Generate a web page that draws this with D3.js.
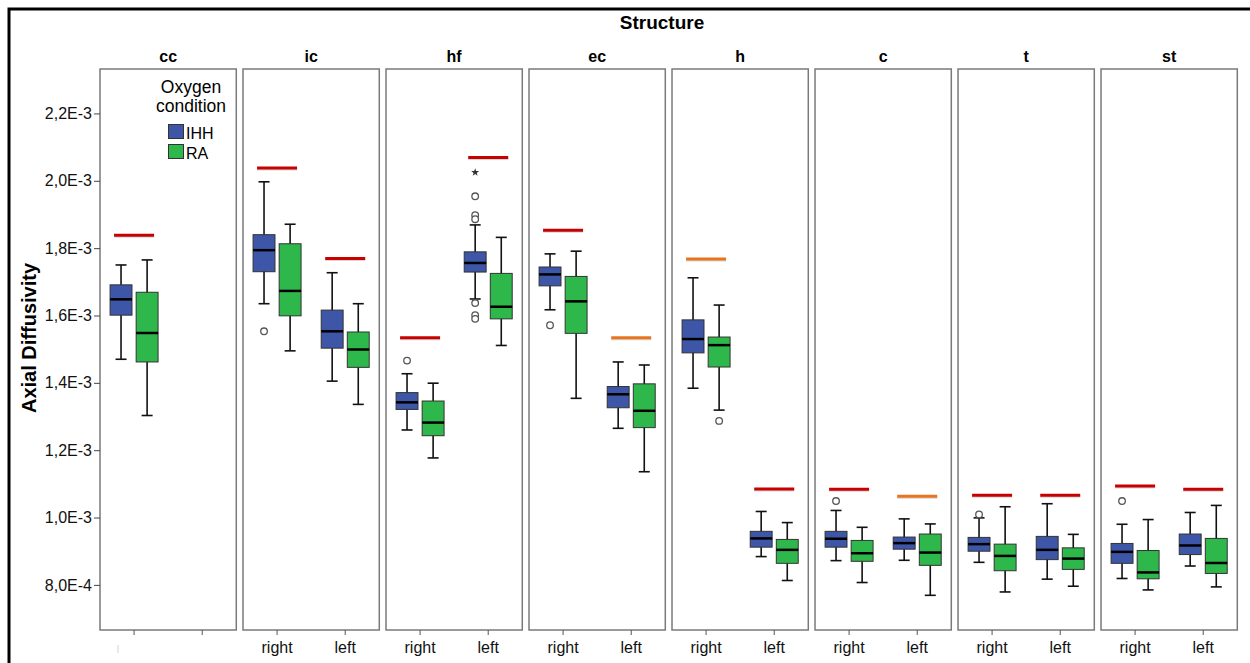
<!DOCTYPE html>
<html>
<head>
<meta charset="utf-8">
<script src="https://cdn.jsdelivr.net/npm/d3@7"></script>
<style>
  body { margin: 0; background: #fff; }
  text { font-family: "Liberation Sans", Arial, sans-serif; }
</style>
</head>
<body>
<svg id="chart" width="1250" height="663"></svg>
<script>
// values are in units of 1E-4
var structures = ["cc", "ic", "hf", "ec", "h", "c", "t", "st"];
var sides = ["right", "left"];
var ccSides = ["", " "];
var groups = ["IHH", "RA"];
var tickValues = [8, 10, 12, 14, 16, 18, 20, 22];
var tickLabels = ["8,0E-4", "1,0E-3", "1,2E-3", "1,4E-3", "1,6E-3", "1,8E-3", "2,0E-3", "2,2E-3"];

// [structure, side, group, whisker low, q1, median, q3, whisker high]
var boxStats = [
  ["cc", "", "IHH", 14.70, 16.01, 16.48, 16.91, 17.50],
  ["cc", "", "RA", 13.03, 14.62, 15.48, 16.69, 17.65],
  ["ic", "right", "IHH", 16.35, 17.30, 17.94, 18.40, 19.97],
  ["ic", "right", "RA", 14.95, 15.99, 16.73, 18.13, 18.71],
  ["ic", "left", "IHH", 14.05, 15.03, 15.53, 16.16, 17.27],
  ["ic", "left", "RA", 13.36, 14.46, 14.99, 15.51, 16.35],
  ["hf", "right", "IHH", 12.60, 13.21, 13.42, 13.71, 14.27],
  ["hf", "right", "RA", 11.77, 12.43, 12.82, 13.46, 13.99],
  ["hf", "left", "IHH", 16.49, 17.29, 17.56, 17.89, 18.69],
  ["hf", "left", "RA", 15.11, 15.90, 16.26, 17.25, 18.32],
  ["ec", "right", "IHH", 16.17, 16.88, 17.22, 17.44, 17.83],
  ["ec", "right", "RA", 13.54, 15.47, 16.42, 17.16, 17.91],
  ["ec", "left", "IHH", 12.65, 13.26, 13.66, 13.89, 14.62],
  ["ec", "left", "RA", 11.36, 12.67, 13.17, 13.97, 14.53],
  ["h", "right", "IHH", 13.84, 14.89, 15.30, 15.87, 17.12],
  ["h", "right", "RA", 13.19, 14.47, 15.12, 15.36, 16.31],
  ["h", "left", "IHH", 8.84, 9.12, 9.38, 9.59, 10.18],
  ["h", "left", "RA", 8.13, 8.64, 9.04, 9.35, 9.85],
  ["c", "right", "IHH", 8.72, 9.12, 9.37, 9.59, 10.21],
  ["c", "right", "RA", 8.07, 8.70, 8.94, 9.32, 9.71],
  ["c", "left", "IHH", 8.73, 9.06, 9.24, 9.42, 9.96],
  ["c", "left", "RA", 7.69, 8.58, 8.96, 9.51, 9.81],
  ["t", "right", "IHH", 8.67, 9.00, 9.21, 9.41, 9.99],
  ["t", "right", "RA", 7.79, 8.42, 8.86, 9.21, 10.32],
  ["t", "left", "IHH", 8.17, 8.75, 9.04, 9.44, 10.41],
  ["t", "left", "RA", 7.96, 8.46, 8.78, 9.10, 9.50],
  ["st", "right", "IHH", 8.19, 8.64, 8.98, 9.23, 9.80],
  ["st", "right", "RA", 7.85, 8.18, 8.37, 9.02, 9.94],
  ["st", "left", "IHH", 8.56, 8.90, 9.17, 9.51, 10.15],
  ["st", "left", "RA", 7.94, 8.34, 8.65, 9.38, 10.36]
];

// [structure, side, group, value, kind]
var outliers = [
  ["ic", "right", "IHH", 15.53, "o"],
  ["hf", "right", "IHH", 14.66, "o"],
  ["hf", "left", "IHH", 20.25, "*"],
  ["hf", "left", "IHH", 19.54, "o"],
  ["hf", "left", "IHH", 18.98, "o"],
  ["hf", "left", "IHH", 18.86, "o"],
  ["hf", "left", "IHH", 16.37, "o"],
  ["hf", "left", "IHH", 16.01, "o"],
  ["hf", "left", "IHH", 15.90, "o"],
  ["ec", "right", "IHH", 15.71, "o"],
  ["h", "right", "RA", 12.87, "o"],
  ["c", "right", "IHH", 10.49, "o"],
  ["t", "right", "IHH", 10.09, "o"],
  ["st", "right", "IHH", 10.49, "o"]
];

// [structure, side, value, level]
var refLines = [
  ["cc", "", 18.38, "red"],
  ["ic", "right", 20.38, "red"],
  ["ic", "left", 17.69, "red"],
  ["hf", "right", 15.34, "red"],
  ["hf", "left", 20.69, "red"],
  ["ec", "right", 18.53, "red"],
  ["ec", "left", 15.34, "orange"],
  ["h", "right", 17.68, "orange"],
  ["h", "left", 10.85, "red"],
  ["c", "right", 10.84, "red"],
  ["c", "left", 10.63, "orange"],
  ["t", "right", 10.66, "red"],
  ["t", "left", 10.66, "red"],
  ["st", "right", 10.94, "red"],
  ["st", "left", 10.84, "red"]
];

var svg = d3.select("#chart");
var plotTop = 69, plotBottom = 630, plotLeft = 100, plotRight = 1237.3;

svg.append("rect").attr("width", 1250).attr("height", 663).attr("fill", "#fff");

// outer frame
svg.append("path")
  .attr("d", "M9,663 V9 H1250")
  .attr("fill", "none")
  .attr("stroke", "#000")
  .attr("stroke-width", 3);

var fx = d3.scaleBand().domain(structures).range([plotLeft, plotRight]).paddingInner(0.047).paddingOuter(0);
var y = d3.scaleLinear().domain([6.66, 23.32]).range([plotBottom, plotTop]);
var gx = d3.scaleBand().domain(groups).range([-24, 24]).paddingInner(0.16);
var color = d3.scaleOrdinal().domain(groups).range(["#3d56a8", "#2eb84b"]);
var refColor = d3.scaleOrdinal().domain(["red", "orange"]).range(["#c80000", "#e8741e"]);

svg.append("text")
  .attr("x", 662).attr("y", 29)
  .attr("text-anchor", "middle")
  .style("font-size", "19px").style("font-weight", "bold")
  .text("Structure");

svg.append("text")
  .attr("transform", "translate(36,338) rotate(-90)")
  .attr("text-anchor", "middle")
  .style("font-size", "20px").style("font-weight", "bold")
  .text("Axial Diffusivity");

structures.forEach(function (s) {
  var bw = fx.bandwidth();
  var sx = d3.scaleBand().domain(s === "cc" ? ccSides : sides).range([0, bw]);
  var center = function (side) { return sx(side) + sx.bandwidth() / 2; };

  var g = svg.append("g").attr("transform", "translate(" + fx(s) + ",0)");

  g.append("rect")
    .attr("x", 0).attr("y", plotTop)
    .attr("width", bw).attr("height", plotBottom - plotTop)
    .attr("fill", "#fff")
    .attr("stroke", "#7a7a7a")
    .attr("stroke-width", 1.5);

  g.append("text")
    .attr("x", bw / 2).attr("y", 61.5)
    .attr("text-anchor", "middle")
    .style("font-size", "16px").style("font-weight", "bold")
    .text(s);

  var xa = g.append("g")
    .attr("transform", "translate(0," + plotBottom + ")")
    .call(d3.axisBottom(sx).tickSize(5).tickSizeOuter(0).tickPadding(7));
  xa.select(".domain").remove();
  xa.selectAll("line").attr("stroke", "#555");
  xa.selectAll("text").style("font-size", "16px").attr("fill", "#111")
    .style("font-family", "'Liberation Sans', Arial, sans-serif");

  // reference lines
  refLines.filter(function (r) { return r[0] === s; }).forEach(function (r) {
    var cx = center(r[1]);
    g.append("line")
      .attr("x1", cx - 20).attr("x2", cx + 20)
      .attr("y1", y(r[2]) + 1.5).attr("y2", y(r[2]) + 1.5)
      .attr("stroke", "#bbb").attr("stroke-opacity", 0.6).attr("stroke-width", 2);
    g.append("line")
      .attr("x1", cx - 20).attr("x2", cx + 20)
      .attr("y1", y(r[2])).attr("y2", y(r[2]))
      .attr("stroke", refColor(r[3])).attr("stroke-width", 3);
  });

  // boxes
  boxStats.filter(function (b) { return b[0] === s; }).forEach(function (b) {
    var cx = center(b[1]) + gx(b[2]) + gx.bandwidth() / 2;
    var w = gx.bandwidth();
    g.append("line")
      .attr("x1", cx).attr("x2", cx)
      .attr("y1", y(b[3])).attr("y2", y(b[7]))
      .attr("stroke", "#111").attr("stroke-width", 1.6);
    [b[3], b[7]].forEach(function (v) {
      g.append("line")
        .attr("x1", cx - 5.5).attr("x2", cx + 5.5)
        .attr("y1", y(v)).attr("y2", y(v))
        .attr("stroke", "#111").attr("stroke-width", 1.6);
    });
    g.append("rect")
      .attr("x", cx - w / 2).attr("y", y(b[6]))
      .attr("width", w).attr("height", y(b[4]) - y(b[6]))
      .attr("fill", color(b[2]))
      .attr("stroke", "#333").attr("stroke-width", 1);
    g.append("line")
      .attr("x1", cx - w / 2).attr("x2", cx + w / 2)
      .attr("y1", y(b[5])).attr("y2", y(b[5]))
      .attr("stroke", "#000").attr("stroke-width", 2.5);
  });

  // outliers
  outliers.filter(function (o) { return o[0] === s; }).forEach(function (o) {
    var cx = center(o[1]) + gx(o[2]) + gx.bandwidth() / 2;
    if (o[4] === "*") {
      g.append("path")
        .attr("transform", "translate(" + cx + "," + y(o[3]) + ")")
        .attr("d", d3.symbol(d3.symbolStar, 20)())
        .attr("fill", "#333");
    } else {
      g.append("circle")
        .attr("cx", cx).attr("cy", y(o[3])).attr("r", 3.3)
        .attr("fill", "#fff").attr("stroke", "#555").attr("stroke-width", 1.3);
    }
  });
});

// y axis on the first panel's left edge
var ya = svg.append("g")
  .attr("transform", "translate(" + plotLeft + ",0)")
  .call(d3.axisLeft(y).tickValues(tickValues)
    .tickFormat(function (d, i) { return tickLabels[i]; })
    .tickSize(6).tickSizeOuter(0).tickPadding(2));
ya.select(".domain").remove();
ya.selectAll("line").attr("stroke", "#444");
ya.selectAll("text").style("font-size", "16px").attr("fill", "#111")
  .style("font-family", "'Liberation Sans', Arial, sans-serif");

// faint mark under the cc panel
svg.append("rect").attr("x", 117.5).attr("y", 645).attr("width", 1).attr("height", 8).attr("fill", "#d4d4d4");

// legend
var lg = svg.append("g");
lg.append("text").attr("x", 191).attr("y", 93).attr("text-anchor", "middle")
  .style("font-size", "17.5px").text("Oxygen");
lg.append("text").attr("x", 191).attr("y", 112).attr("text-anchor", "middle")
  .style("font-size", "17.5px").text("condition");
groups.forEach(function (k, i) {
  lg.append("rect")
    .attr("x", 168.5).attr("y", 124.5 + i * 20)
    .attr("width", 15).attr("height", 14)
    .attr("fill", color(k)).attr("stroke", "#333").attr("stroke-width", 1);
  lg.append("text")
    .attr("x", 186).attr("y", 139 + i * 20)
    .style("font-size", "16px").text(k);
});
</script>
</body>
</html>
